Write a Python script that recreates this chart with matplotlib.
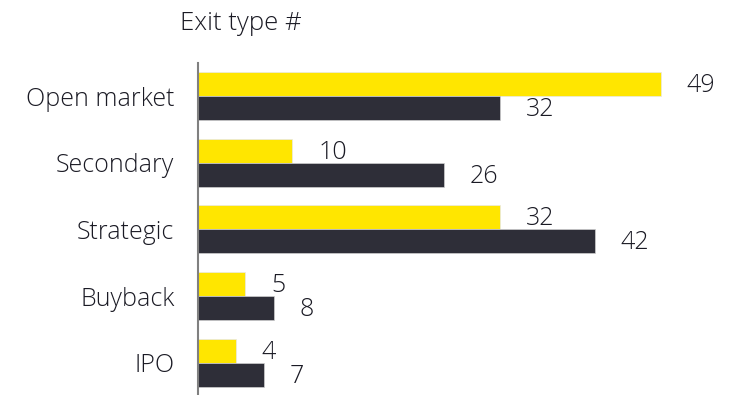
import matplotlib
matplotlib.use("Agg")
import matplotlib.pyplot as plt
import numpy as np

categories = ["Open market", "Secondary", "Strategic", "Buyback", "IPO"]
series_a = [49, 10, 32, 5, 4]
series_b = [32, 26, 42, 8, 7]

YELLOW = "#FFE600"
DARK = "#2E2E38"
TEXT = "#1A1A24"

plt.rcParams["font.family"] = ["Open Sans", "DejaVu Sans"]
plt.rcParams["font.weight"] = "light"

W, H = 736, 395
fig = plt.figure(figsize=(W / 100, H / 100), dpi=100)

# axes in pixel geometry
left, right, top, bottom = 198, 720, 63, 395
ax = fig.add_axes([left / W, 1 - bottom / H, (right - left) / W, (bottom - top) / H])

px_per_unit = 463 / 49
spacing = 66.75
bar_h = 24 / spacing
ax.set_xlim(0, (right - left) / px_per_unit)
ax.set_ylim((bottom - 96) / spacing, (top - 96) / spacing)

y = np.arange(len(categories))
ax.barh(y - bar_h / 2, series_a, height=bar_h, color=YELLOW, edgecolor="#e8e8e8", linewidth=0.5)
ax.barh(y + bar_h / 2, series_b, height=bar_h, color=DARK, edgecolor="#cfcfcf", linewidth=0.5)

for yi, a, b in zip(y, series_a, series_b):
    ax.annotate(str(a), (a, yi - bar_h / 2), xytext=(18.5, -1), textcoords="offset points",
                va="center", ha="left", fontsize=18, color=TEXT)
    ax.annotate(str(b), (b, yi + bar_h / 2), xytext=(18.5, -1), textcoords="offset points",
                va="center", ha="left", fontsize=18, color=TEXT)

ax.set_yticks(y)
ax.set_yticklabels(categories, fontsize=18, color=TEXT)
ax.tick_params(axis="y", length=0, pad=17)
ax.set_xticks([])
for s in ["top", "right", "bottom"]:
    ax.spines[s].set_visible(False)
ax.spines["left"].set_color("#808080")
ax.spines["left"].set_linewidth(1.5)

fig.text(180 / W, 1 - 23 / H, "Exit type #", fontsize=18.5, color=TEXT, ha="left", va="center")

fig.savefig("out.png", dpi=100, facecolor="white")
